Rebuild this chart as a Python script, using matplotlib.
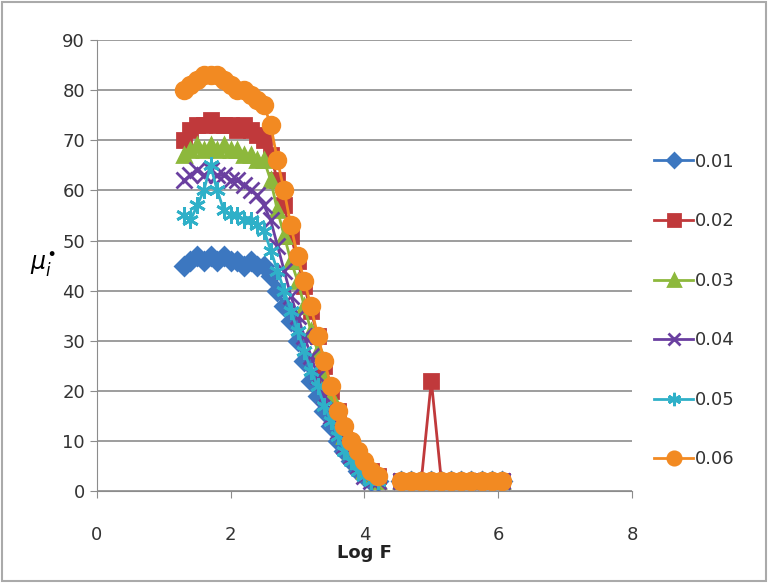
import numpy as np
import matplotlib.pyplot as plt

# Log F values (main branch and high-frequency tail)
x_main = [1.3, 1.4, 1.5, 1.6, 1.7, 1.8, 1.9, 2.0, 2.1, 2.2, 2.3, 2.4, 2.5,
          2.6, 2.7, 2.8, 2.9, 3.0, 3.1, 3.2, 3.3, 3.4, 3.5, 3.6, 3.7, 3.8,
          3.9, 4.0, 4.1, 4.2]
x_tail = [4.55, 4.7, 4.85, 5.0, 5.15, 5.3, 5.45, 5.6, 5.75, 5.9, 6.05]

labels = ['0.01', '0.02', '0.03', '0.04', '0.05', '0.06']

mu_001 = [45, 46, 47, 46, 47, 46, 47, 46, 46, 45, 46, 45, 45,
          43, 40, 37, 34, 30, 26, 22, 19, 16, 13, 10, 8, 6,
          4, 3, 2, 2]
mu_002 = [70, 72, 73, 73, 74, 73, 73, 73, 72, 73, 72, 71, 70,
          67, 62, 57, 51, 46, 41, 36, 31, 25, 20, 16, 12, 9,
          7, 5, 4, 3]
mu_003 = [67, 68, 69, 68, 69, 68, 69, 68, 68, 67, 67, 66, 66,
          62, 56, 51, 46, 42, 37, 32, 28, 23, 19, 15, 11, 8,
          6, 4, 3, 2]
mu_004 = [62, 63, 64, 63, 64, 63, 63, 62, 62, 61, 60, 59, 57,
          54, 49, 44, 39, 35, 31, 27, 23, 19, 15, 12, 9, 7,
          5, 3, 2, 2]
mu_005 = [55, 54, 57, 60, 65, 60, 56, 55, 55, 54, 54, 53, 52,
          48, 44, 40, 36, 32, 28, 24, 21, 17, 14, 11, 8, 6,
          4, 3, 2, 2]
mu_006 = [80, 81, 82, 83, 83, 83, 82, 81, 80, 80, 79, 78, 77,
          73, 66, 60, 53, 47, 42, 37, 31, 26, 21, 16, 13, 10,
          8, 6, 4, 3]

tail_001 = [2, 2, 2, 2, 2, 2, 2, 2, 2, 2, 2]
tail_002 = [2, 2, 2, 22, 2, 2, 2, 2, 2, 2, 2]
tail_003 = [2, 2, 2, 2, 2, 2, 2, 2, 2, 2, 2]
tail_004 = [2, 2, 2, 2, 2, 2, 2, 2, 2, 2, 2]
tail_005 = [2, 2, 2, 2, 2, 2, 2, 2, 2, 2, 2]
tail_006 = [2, 2, 2, 2, 2, 2, 2, 2, 2, 2, 2]

main = [mu_001, mu_002, mu_003, mu_004, mu_005, mu_006]
tail = [tail_001, tail_002, tail_003, tail_004, tail_005, tail_006]

colors = ['#3c77c0', '#c0393b', '#8db83c', '#6a3fa0', '#2fb0c8', '#f28a22']
markers = ['D', 's', '^', 'x', (6, 2, 0), 'o']
msizes = [9, 10, 10, 11, 12, 12]

fig = plt.figure(figsize=(7.68, 5.83), dpi=100)
fig.patch.set_facecolor('white')
ax = fig.add_axes([0.126, 0.158, 0.697, 0.773])

for i in range(6):
    ys = main[i] + [np.nan] + tail[i]
    xs = x_main + [4.35] + x_tail
    ax.plot(xs, ys, color=colors[i], marker=markers[i], ms=msizes[i],
            lw=2, mew=2, label=labels[i])

ax.set_xlim(0, 8)
ax.set_ylim(0, 90)
ax.set_xticks([0, 2, 4, 6, 8])
ax.set_yticks(range(0, 91, 10))
ax.yaxis.grid(True, color='#8c8c8c', lw=1.2)
ax.set_axisbelow(True)
for s in ['top', 'right']:
    ax.spines[s].set_visible(False)
ax.spines['left'].set_color('#8c8c8c')
ax.spines['bottom'].set_color('#8c8c8c')
ax.tick_params(colors='#8c8c8c', labelcolor='#333333', labelsize=13, length=5)
ax.tick_params(axis='x', pad=20)

ax.set_xlabel('Log F', fontsize=13, color='#222222', fontweight='bold',
              labelpad=0)
ax.set_ylabel(r'$\mu_i^{\bullet}$', fontsize=17, rotation=0, color='black',
              labelpad=8)
ax.yaxis.set_label_coords(-0.1, 0.47)

leg = ax.legend(loc='center left', bbox_to_anchor=(1.01, 0.40), frameon=False,
                fontsize=13, labelspacing=2.3, handlelength=2.2,
                handletextpad=0.1, markerscale=0.8)
for t in leg.get_texts():
    t.set_color('#333333')

fig.add_artist(plt.Rectangle((0.003, 0.003), 0.994, 0.994, fill=False,
                             edgecolor='#aaaaaa', lw=1.5,
                             transform=fig.transFigure))

fig.savefig('out.png', dpi=100)
